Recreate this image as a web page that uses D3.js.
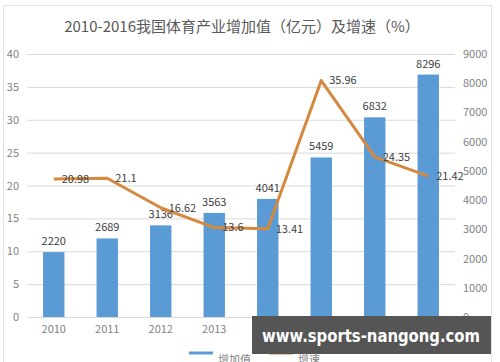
<!DOCTYPE html>
<html lang="zh">
<head>
  <meta charset="UTF-8">
  <title>体育产业增加值</title>
  <script src="https://d3js.org/d3.v7.min.js"></script>
  <style>
    body { margin: 0; background: #fff; }
    text { font-family: "Noto Sans CJK SC", "Liberation Sans", sans-serif; }
    .tick text { fill: #7f7f7f; font-size: 11px; }
    .grid line { stroke: #d9d9d9; }
    .lbl { fill: #404040; font-size: 11px; }
  </style>
</head>
<body>
<svg width="500" height="362" id="chart"></svg>

<script>
  const years = ['2010', '2011', '2012', '2013', '2014', '2015', '2016', '2017'];
  const added = [2220, 2689, 3136, 3563, 4041, 5459, 6832, 8296];
  const growth = [20.98, 21.1, 16.62, 13.6, 13.41, 35.96, 24.35, 21.42];
  const leftTicks = [0, 5, 10, 15, 20, 25, 30, 35, 40];
  const rightTicks = [0, 1000, 2000, 3000, 4000, 5000, 6000, 7000, 8000, 9000];

  const svg = d3.select('#chart');
  const plotL = 27, plotR = 455, plotT = 54, plotB = 317;

  const x = d3.scaleBand().domain(years).range([plotL, plotR]).paddingInner(0.6).paddingOuter(0.3);
  const xc = d => x(d) + x.bandwidth() / 2;
  const yL = d3.scaleLinear().domain([0, 40]).range([plotB, plotT]);
  const yR = d3.scaleLinear().domain([0, 9000]).range([plotB, plotT]);

  // frame
  svg.append('rect')
    .attr('x', 3.5).attr('y', 5.5).attr('width', 488).attr('height', 360)
    .attr('fill', 'none').attr('stroke', '#e3e3e3');

  svg.append('text')
    .attr('x', 242).attr('y', 32)
    .attr('text-anchor', 'middle')
    .attr('fill', '#595959')
    .style('font-size', '15px')
    .text('2010-2016我国体育产业增加值（亿元）及增速（%）');

  // gridlines
  svg.append('g').attr('class', 'grid')
    .selectAll('line').data(leftTicks).enter().append('line')
    .attr('x1', plotL).attr('x2', plotR)
    .attr('y1', d => yL(d) + 0.5).attr('y2', d => yL(d) + 0.5);

  const axL = svg.append('g').attr('transform', `translate(${plotL - 8},0)`)
    .call(d3.axisLeft(yL).tickValues(leftTicks).tickSize(0).tickPadding(0));
  axL.select('.domain').remove();

  const axR = svg.append('g').attr('transform', `translate(${plotR + 8},0)`)
    .call(d3.axisRight(yR).tickValues(rightTicks).tickFormat(d3.format('d')).tickSize(0).tickPadding(0));
  axR.select('.domain').remove();

  const axX = svg.append('g').attr('transform', `translate(0,${plotB + 8})`)
    .call(d3.axisBottom(x).tickSize(0).tickPadding(0));
  axX.select('.domain').remove();
  axX.selectAll('text').attr('dy', '0.71em');

  // bars
  svg.selectAll('.bar').data(years).enter().append('rect')
    .attr('class', 'bar')
    .attr('x', d => x(d))
    .attr('width', x.bandwidth())
    .attr('y', (d, i) => yR(added[i]))
    .attr('height', (d, i) => plotB - yR(added[i]))
    .attr('fill', '#5b9bd5');

  svg.selectAll('.blbl').data(years).enter().append('text')
    .attr('class', 'lbl')
    .attr('x', d => xc(d))
    .attr('y', (d, i) => yR(added[i]) - 7)
    .attr('text-anchor', 'middle')
    .text((d, i) => added[i]);

  // growth line
  const line = d3.line().x(d => xc(d[0])).y(d => yL(d[1]));
  svg.append('path')
    .datum(years.map((d, i) => [d, growth[i]]))
    .attr('d', line)
    .attr('fill', 'none')
    .attr('stroke', '#d4893f')
    .attr('stroke-width', 3)
    .attr('stroke-linejoin', 'round');

  svg.selectAll('.glbl').data(years).enter().append('text')
    .attr('class', 'lbl')
    .attr('x', d => xc(d) + 8)
    .attr('y', (d, i) => yL(growth[i]))
    .attr('dy', '0.35em')
    .text((d, i) => growth[i]);

  // legend (cut by the lower edge)
  const lg = svg.append('g').attr('transform', 'translate(189,353)');
  lg.append('line').attr('x1', 0).attr('x2', 24).attr('stroke', '#5b9bd5').attr('stroke-width', 3);
  lg.append('text').attr('x', 29).attr('y', 5).attr('dy', '0.5em').attr('fill', '#7f7f7f').style('font-size', '11px').text('增加值');
  lg.append('line').attr('x1', 80).attr('x2', 104).attr('stroke', '#d4893f').attr('stroke-width', 3);
  lg.append('text').attr('x', 109).attr('y', 5).attr('dy', '0.5em').attr('fill', '#7f7f7f').style('font-size', '11px').text('增速');

  // watermark
  svg.append('rect')
    .attr('x', 252).attr('y', 316).attr('width', 239).attr('height', 38)
    .attr('fill', '#555555');
  svg.append('text')
    .attr('x', 262).attr('y', 342)
    .attr('fill', '#ffffff')
    .attr('textLength', 218)
    .attr('lengthAdjust', 'spacingAndGlyphs')
    .style('font-family', '"DejaVu Sans", sans-serif')
    .style('font-weight', 'bold')
    .style('font-size', '18px')
    .text('www.sports-nangong.com');
</script>
</body>
</html>
